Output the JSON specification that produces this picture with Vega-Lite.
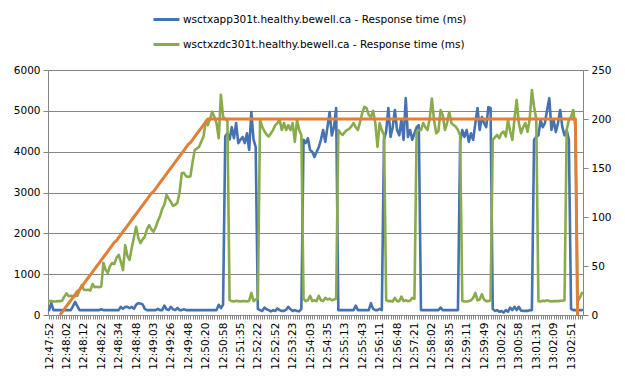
{
  "$schema": "https://vega.github.io/schema/vega-lite/v6.json",
  "autosize": {"type": "none"},
  "width": 535,
  "height": 245,
  "padding": {"left": 48, "top": 70, "right": 42, "bottom": 66},
  "background": "white",
  "config": {
    "font": "DejaVu Sans",
    "view": {"stroke": null},
    "axis": {"labelFont": "DejaVu Sans", "labelFontSize": 10.5, "labelColor": "#000000", "domainColor": "#868686", "tickColor": "#868686", "gridColor": "#868686", "gridOpacity": 1, "domainWidth": 1, "tickWidth": 1, "gridWidth": 1},
    "legend": {"labelFont": "DejaVu Sans", "labelFontSize": 10.5, "labelColor": "#000000"}
  },
  "datasets": {
    "d": [
{"t":"12:47:52","a":120,"z":340},{"t":"12:47:53","a":300,"z":340},{"t":"12:47:54","a":120,"z":330},{"t":"12:47:55","a":120,"z":330},{"t":"12:47:57","a":120,"z":340},{"t":"12:47:58","a":120,"z":340,"u":0},{"t":"12:47:59","a":120,"z":350,"u":3},{"t":"12:48:00","a":120,"z":450,"u":6},
{"t":"12:48:02","a":120,"z":530,"u":9},{"t":"12:48:03","a":120,"z":460,"u":12},{"t":"12:48:04","a":120,"z":470,"u":15},{"t":"12:48:05","a":220,"z":460,"u":18},{"t":"12:48:07","a":320,"z":460,"u":21},{"t":"12:48:08","a":220,"z":470,"u":24},{"t":"12:48:09","a":120,"z":600,"u":26},{"t":"12:48:10","a":120,"z":730,"u":29},
{"t":"12:48:12","a":120,"z":620,"u":32},{"t":"12:48:13","a":120,"z":610,"u":35},{"t":"12:48:14","a":120,"z":620,"u":38},{"t":"12:48:15","a":120,"z":600,"u":41},{"t":"12:48:17","a":120,"z":760,"u":44},{"t":"12:48:18","a":120,"z":680,"u":47},{"t":"12:48:19","a":120,"z":690,"u":50},{"t":"12:48:20","a":120,"z":680,"u":53},
{"t":"12:48:22","a":140,"z":700,"u":56},{"t":"12:48:23","a":120,"z":1280,"u":59},{"t":"12:48:25","a":120,"z":1100,"u":62},{"t":"12:48:26","a":120,"z":1030,"u":65},{"t":"12:48:28","a":120,"z":1200,"u":68},{"t":"12:48:29","a":120,"z":1270,"u":71},{"t":"12:48:31","a":120,"z":1250,"u":74},{"t":"12:48:32","a":120,"z":1400,"u":76},
{"t":"12:48:34","a":120,"z":1470,"u":79},{"t":"12:48:36","a":200,"z":1300,"u":82},{"t":"12:48:37","a":150,"z":1100,"u":85},{"t":"12:48:39","a":200,"z":1710,"u":88},{"t":"12:48:41","a":200,"z":1450,"u":91},{"t":"12:48:43","a":170,"z":1350,"u":94},{"t":"12:48:44","a":200,"z":1640,"u":97},{"t":"12:48:46","a":150,"z":1900,"u":100},
{"t":"12:48:48","a":250,"z":2160,"u":103},{"t":"12:48:50","a":290,"z":1900,"u":106},{"t":"12:48:52","a":280,"z":1760,"u":109},{"t":"12:48:54","a":260,"z":1850,"u":112},{"t":"12:48:56","a":150,"z":1920,"u":115},{"t":"12:48:57","a":120,"z":2100,"u":118},{"t":"12:48:59","a":120,"z":2200,"u":121},{"t":"12:49:01","a":120,"z":2100,"u":124},
{"t":"12:49:03","a":120,"z":2040,"u":126},{"t":"12:49:06","a":120,"z":2150,"u":129},{"t":"12:49:09","a":150,"z":2300,"u":132},{"t":"12:49:12","a":120,"z":2420,"u":135},{"t":"12:49:14","a":120,"z":2600,"u":138},{"t":"12:49:17","a":230,"z":2700,"u":141},{"t":"12:49:20","a":140,"z":2940,"u":144},{"t":"12:49:23","a":120,"z":2850,"u":147},
{"t":"12:49:26","a":200,"z":2770,"u":150},{"t":"12:49:29","a":140,"z":2670,"u":153},{"t":"12:49:32","a":120,"z":2700,"u":156},{"t":"12:49:34","a":170,"z":2750,"u":159},{"t":"12:49:37","a":120,"z":3000,"u":162},{"t":"12:49:40","a":120,"z":3470,"u":165},{"t":"12:49:43","a":140,"z":3480,"u":168},{"t":"12:49:45","a":120,"z":3400,"u":171},
{"t":"12:49:48","a":120,"z":3380,"u":174},{"t":"12:49:52","a":120,"z":3400,"u":176},{"t":"12:49:56","a":120,"z":3750,"u":179},{"t":"12:50:00","a":120,"z":4040,"u":182},{"t":"12:50:04","a":120,"z":4080,"u":185},{"t":"12:50:08","a":120,"z":4120,"u":188},{"t":"12:50:12","a":120,"z":4250,"u":191},{"t":"12:50:16","a":120,"z":4370,"u":194},
{"t":"12:50:20","a":120,"z":4730,"u":197},{"t":"12:50:25","a":120,"z":4650,"u":200},{"t":"12:50:30","a":120,"z":4800,"u":200},{"t":"12:50:34","a":120,"z":4980,"u":200},{"t":"12:50:39","a":120,"z":4850,"u":200},{"t":"12:50:44","a":120,"z":4700,"u":200},{"t":"12:50:48","a":250,"z":4330,"u":200},{"t":"12:50:53","a":170,"z":5390,"u":200},
{"t":"12:50:58","a":250,"z":4860,"u":200},{"t":"12:51:03","a":4370,"z":4800,"u":200},{"t":"12:51:07","a":4450,"z":4750,"u":200},{"t":"12:51:12","a":4300,"z":370,"u":200},{"t":"12:51:16","a":4600,"z":340,"u":200},{"t":"12:51:21","a":4330,"z":330,"u":200},{"t":"12:51:26","a":4700,"z":350,"u":200},{"t":"12:51:30","a":4210,"z":340,"u":200},
{"t":"12:51:35","a":4290,"z":330,"u":200},{"t":"12:51:41","a":4360,"z":340,"u":200},{"t":"12:51:47","a":4210,"z":340,"u":200},{"t":"12:51:53","a":4450,"z":330,"u":200},{"t":"12:51:59","a":4040,"z":350,"u":200},{"t":"12:52:04","a":4970,"z":540,"u":200},{"t":"12:52:10","a":4300,"z":340,"u":200},{"t":"12:52:16","a":4110,"z":380,"u":200},
{"t":"12:52:22","a":150,"z":400,"u":200},{"t":"12:52:26","a":120,"z":4780,"u":200},{"t":"12:52:30","a":100,"z":4610,"u":200},{"t":"12:52:33","a":180,"z":4500,"u":200},{"t":"12:52:37","a":140,"z":4420,"u":200},{"t":"12:52:41","a":120,"z":4370,"u":200},{"t":"12:52:45","a":90,"z":4450,"u":200},{"t":"12:52:48","a":120,"z":4530,"u":200},
{"t":"12:52:52","a":100,"z":4650,"u":200},{"t":"12:52:56","a":160,"z":4700,"u":200},{"t":"12:53:00","a":120,"z":4780,"u":200},{"t":"12:53:04","a":100,"z":4530,"u":200},{"t":"12:53:08","a":100,"z":4700,"u":200},{"t":"12:53:11","a":130,"z":4530,"u":200},{"t":"12:53:15","a":200,"z":4650,"u":200},{"t":"12:53:19","a":140,"z":4530,"u":200},
{"t":"12:53:23","a":100,"z":4700,"u":200},{"t":"12:53:28","a":120,"z":4240,"u":200},{"t":"12:53:33","a":100,"z":4780,"u":200},{"t":"12:53:38","a":90,"z":4530,"u":200},{"t":"12:53:43","a":150,"z":4400,"u":200},{"t":"12:53:48","a":4290,"z":400,"u":200},{"t":"12:53:53","a":4210,"z":340,"u":200},{"t":"12:53:58","a":4330,"z":360,"u":200},
{"t":"12:54:03","a":4040,"z":470,"u":200},{"t":"12:54:07","a":4000,"z":340,"u":200},{"t":"12:54:11","a":3870,"z":360,"u":200},{"t":"12:54:15","a":3990,"z":340,"u":200},{"t":"12:54:19","a":4110,"z":470,"u":200},{"t":"12:54:23","a":4290,"z":360,"u":200},{"t":"12:54:27","a":4530,"z":340,"u":200},{"t":"12:54:31","a":4240,"z":420,"u":200},
{"t":"12:54:35","a":4600,"z":380,"u":200},{"t":"12:54:40","a":4970,"z":400,"u":200},{"t":"12:54:45","a":4400,"z":360,"u":200},{"t":"12:54:49","a":4600,"z":380,"u":200},{"t":"12:54:54","a":5070,"z":400,"u":200},{"t":"12:54:59","a":120,"z":4530,"u":200},{"t":"12:55:03","a":120,"z":4450,"u":200},{"t":"12:55:08","a":120,"z":4410,"u":200},
{"t":"12:55:13","a":120,"z":4480,"u":200},{"t":"12:55:17","a":120,"z":4530,"u":200},{"t":"12:55:21","a":120,"z":4560,"u":200},{"t":"12:55:24","a":120,"z":4620,"u":200},{"t":"12:55:28","a":120,"z":4700,"u":200},{"t":"12:55:32","a":230,"z":4600,"u":200},{"t":"12:55:36","a":120,"z":4530,"u":200},{"t":"12:55:39","a":120,"z":4730,"u":200},
{"t":"12:55:43","a":120,"z":4950,"u":200},{"t":"12:55:46","a":120,"z":5100,"u":200},{"t":"12:55:50","a":120,"z":5060,"u":200},{"t":"12:55:53","a":120,"z":4900,"u":200},{"t":"12:55:57","a":290,"z":4850,"u":200},{"t":"12:56:00","a":150,"z":5000,"u":200},{"t":"12:56:04","a":120,"z":4700,"u":200},{"t":"12:56:07","a":120,"z":4120,"u":200},
{"t":"12:56:11","a":150,"z":4700,"u":200},{"t":"12:56:16","a":120,"z":4530,"u":200},{"t":"12:56:20","a":4290,"z":4400,"u":200},{"t":"12:56:25","a":4500,"z":360,"u":200},{"t":"12:56:30","a":5070,"z":340,"u":200},{"t":"12:56:34","a":4360,"z":340,"u":200},{"t":"12:56:39","a":4600,"z":330,"u":200},{"t":"12:56:43","a":5020,"z":420,"u":200},
{"t":"12:56:48","a":4530,"z":340,"u":200},{"t":"12:56:52","a":4400,"z":340,"u":200},{"t":"12:56:56","a":4775,"z":450,"u":200},{"t":"12:57:00","a":4290,"z":340,"u":200},{"t":"12:57:05","a":5310,"z":360,"u":200},{"t":"12:57:09","a":4360,"z":340,"u":200},{"t":"12:57:13","a":4530,"z":350,"u":200},{"t":"12:57:17","a":4290,"z":420,"u":200},
{"t":"12:57:21","a":4450,"z":400,"u":200},{"t":"12:57:26","a":4600,"z":4480,"u":200},{"t":"12:57:31","a":4650,"z":4530,"u":200},{"t":"12:57:36","a":120,"z":4530,"u":200},{"t":"12:57:42","a":120,"z":4700,"u":200},{"t":"12:57:47","a":120,"z":4600,"u":200},{"t":"12:57:52","a":120,"z":4530,"u":200},{"t":"12:57:57","a":120,"z":4800,"u":200},
{"t":"12:58:02","a":120,"z":5300,"u":200},{"t":"12:58:06","a":120,"z":4780,"u":200},{"t":"12:58:10","a":120,"z":4450,"u":200},{"t":"12:58:14","a":120,"z":4500,"u":200},{"t":"12:58:19","a":180,"z":5020,"u":200},{"t":"12:58:23","a":120,"z":4900,"u":200},{"t":"12:58:27","a":120,"z":4530,"u":200},{"t":"12:58:31","a":120,"z":4700,"u":200},
{"t":"12:58:35","a":120,"z":4970,"u":200},{"t":"12:58:40","a":120,"z":4700,"u":200},{"t":"12:58:44","a":120,"z":4650,"u":200},{"t":"12:58:49","a":120,"z":4610,"u":200},{"t":"12:58:53","a":120,"z":4530,"u":200},{"t":"12:58:58","a":4240,"z":4400,"u":200},{"t":"12:59:02","a":4530,"z":350,"u":200},{"t":"12:59:07","a":4360,"z":330,"u":200},
{"t":"12:59:11","a":4530,"z":330,"u":200},{"t":"12:59:16","a":4240,"z":340,"u":200},{"t":"12:59:21","a":4450,"z":360,"u":200},{"t":"12:59:25","a":4290,"z":420,"u":200},{"t":"12:59:30","a":4700,"z":540,"u":200},{"t":"12:59:35","a":5070,"z":360,"u":200},{"t":"12:59:39","a":4530,"z":380,"u":200},{"t":"12:59:44","a":4850,"z":510,"u":200},
{"t":"12:59:49","a":4700,"z":380,"u":200},{"t":"12:59:53","a":4600,"z":340,"u":200},{"t":"12:59:57","a":5090,"z":340,"u":200},{"t":"13:00:01","a":5070,"z":360,"u":200},{"t":"13:00:06","a":150,"z":4290,"u":200},{"t":"13:00:10","a":100,"z":4350,"u":200},{"t":"13:00:14","a":120,"z":4410,"u":200},{"t":"13:00:18","a":80,"z":4330,"u":200},
{"t":"13:00:22","a":100,"z":4450,"u":200},{"t":"13:00:27","a":60,"z":4490,"u":200},{"t":"13:00:31","a":120,"z":4370,"u":200},{"t":"13:00:36","a":80,"z":4780,"u":200},{"t":"13:00:40","a":180,"z":4500,"u":200},{"t":"13:00:45","a":120,"z":4290,"u":200},{"t":"13:00:49","a":200,"z":4800,"u":200},{"t":"13:00:54","a":120,"z":5265,"u":200},
{"t":"13:00:58","a":200,"z":4700,"u":200},{"t":"13:01:02","a":110,"z":4450,"u":200},{"t":"13:01:06","a":100,"z":4600,"u":200},{"t":"13:01:10","a":100,"z":4700,"u":200},{"t":"13:01:15","a":100,"z":4490,"u":200},{"t":"13:01:19","a":120,"z":4800,"u":200},{"t":"13:01:23","a":120,"z":5510,"u":200},{"t":"13:01:27","a":4290,"z":5100,"u":200},
{"t":"13:01:31","a":4360,"z":4800,"u":200},{"t":"13:01:36","a":4400,"z":340,"u":200},{"t":"13:01:41","a":4775,"z":330,"u":200},{"t":"13:01:45","a":4600,"z":350,"u":200},{"t":"13:01:50","a":4700,"z":340,"u":200},{"t":"13:01:55","a":5020,"z":360,"u":200},{"t":"13:01:59","a":5310,"z":340,"u":200},{"t":"13:02:04","a":4530,"z":330,"u":200},
{"t":"13:02:09","a":4775,"z":340,"u":200},{"t":"13:02:14","a":4480,"z":340,"u":200},{"t":"13:02:20","a":4700,"z":340,"u":200},{"t":"13:02:25","a":5020,"z":350,"u":200},{"t":"13:02:30","a":4600,"z":350,"u":200},{"t":"13:02:35","a":4400,"z":360,"u":200},{"t":"13:02:41","a":4530,"z":4530,"u":200},{"t":"13:02:46","a":4290,"z":4780,"u":200},
{"t":"13:02:51","a":150,"z":4850,"u":200},{"t":"13:02:56","a":120,"z":5020,"u":200},{"t":"13:03:01","a":120,"z":4600,"u":200},{"t":"13:03:06","a":120,"z":330,"u":0},{"t":"13:03:11","a":120,"z":420},{"t":"13:03:16","a":120,"z":540}
    ]
  },
  "data": {"name": "d"},
  "layer": [
    {
      "transform": [{"fold": ["a", "z"], "as": ["s", "v"]}],
      "mark": {"type": "line", "strokeWidth": 2.6, "strokeJoin": "round", "strokeCap": "round"},
      "encoding": {
        "x": {
          "field": "t", "type": "ordinal", "sort": null,
          "scale": {"type": "point", "padding": 0.5},
          "axis": {"title": null, "labelAngle": -90, "labelOverlap": false, "tickSize": 4, "labelPadding": 3, "labelExpr": "indexof(domain('x'), datum.value) % 8 == 0 ? datum.value : ''"}
        },
        "y": {
          "field": "v", "type": "quantitative",
          "scale": {"domain": [0, 6000], "nice": false},
          "axis": {"title": null, "format": "d", "values": [0, 1000, 2000, 3000, 4000, 5000, 6000], "grid": true, "tickSize": 5, "labelPadding": 3}
        },
        "color": {
          "field": "s", "type": "nominal",
          "scale": {"domain": ["a", "z"], "range": ["#4572B0", "#8AAB4C"]},
          "legend": {
            "title": null, "orient": "none", "legendX": 104, "legendY": -65, "direction": "vertical",
            "symbolType": "stroke", "symbolSize": 676, "symbolStrokeWidth": 3, "rowPadding": 4, "labelOffset": 2, "labelLimit": 500,
            "labelExpr": "datum.value == 'a' ? 'wsctxapp301t.healthy.bewell.ca -  Response time (ms)' : 'wsctxzdc301t.healthy.bewell.ca -  Response time (ms)'"
          }
        }
      }
    },
    {
      "transform": [{"filter": "isValid(datum.u)"}],
      "mark": {"type": "line", "strokeWidth": 3, "color": "#E07F38", "strokeJoin": "round"},
      "encoding": {
        "x": {"field": "t", "type": "ordinal", "sort": null},
        "y": {
          "field": "u", "type": "quantitative",
          "scale": {"domain": [0, 250], "nice": false},
          "axis": {"title": null, "orient": "right", "values": [0, 50, 100, 150, 200, 250], "grid": false, "tickSize": 5, "labelPadding": 3}
        }
      }
    }
  ],
  "resolve": {"scale": {"y": "independent"}}
}
